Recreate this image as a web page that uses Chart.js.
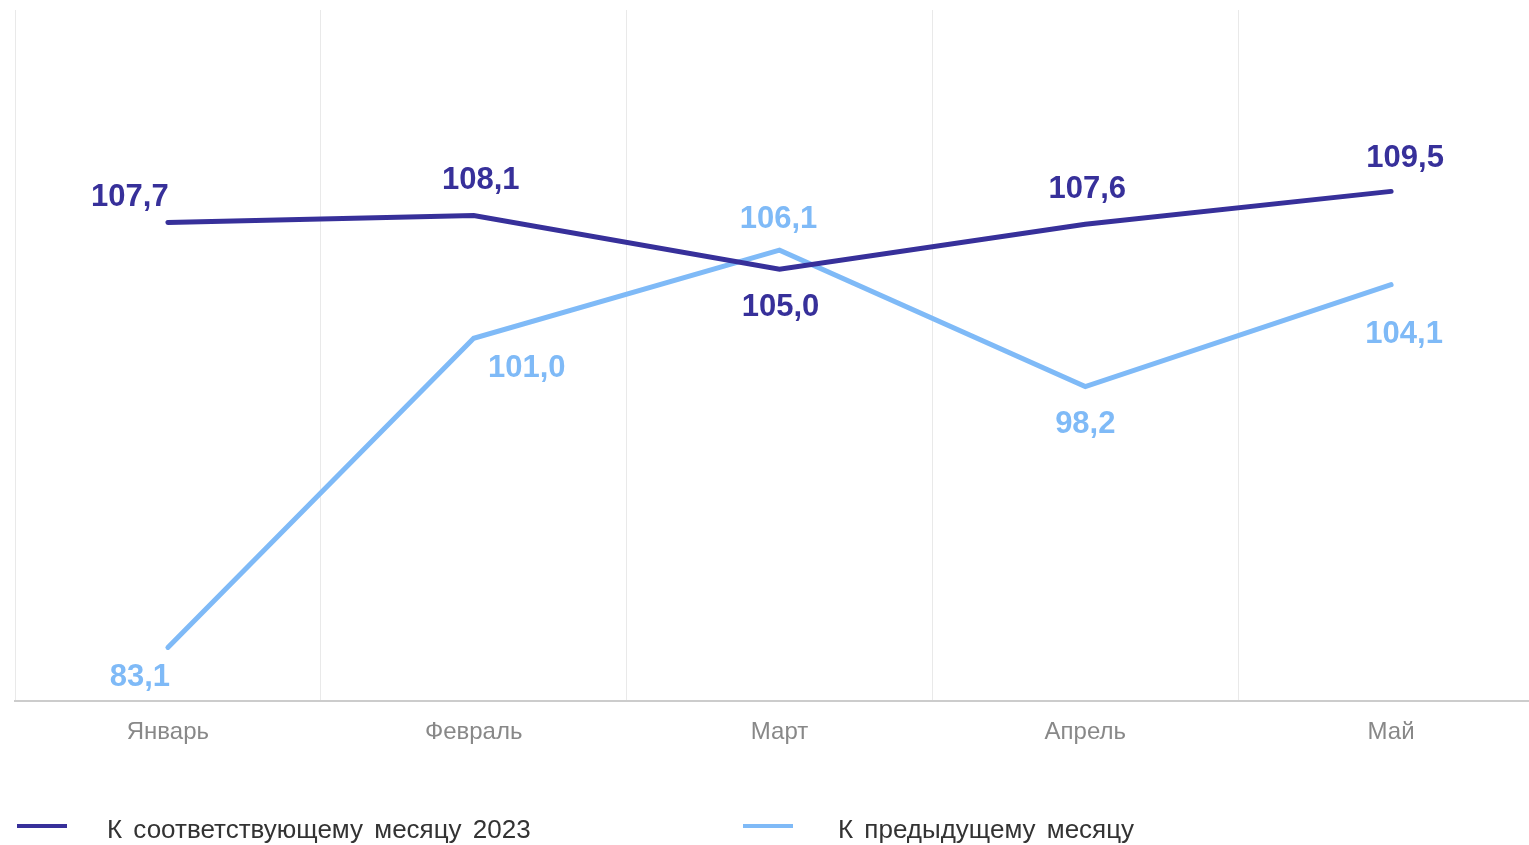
<!DOCTYPE html>
<html>
<head>
<meta charset="utf-8">
<script src="https://cdn.jsdelivr.net/npm/chart.js@4/dist/chart.umd.min.js"></script>
<style>
    body { margin: 0; overflow: hidden; background: #fff; font-family: "Liberation Sans", Arial, sans-serif; }
    #wrap { position: absolute; left: 0; top: 0; width: 1560px; height: 770px; }
    #legend { position: absolute; left: 0; top: 0; width: 1529px; height: 845px; }
    .mark { position: absolute; top: 824px; width: 50px; height: 4px; }
    .name { position: absolute; top: 812px; font-size: 26px; line-height: 34px; color: #333; word-spacing: 4px; white-space: nowrap; }
</style>
</head>
<body>
<div id="wrap"><canvas id="myChart"></canvas></div>
<div id="legend"></div>
<script>
const months = ['Январь', 'Февраль', 'Март', 'Апрель', 'Май'];
const sameMonth2023 = [107.7, 108.1, 105.0, 107.6, 109.5];
const prevMonth = [83.1, 101.0, 106.1, 98.2, 104.1];
const seriesNames = ['К соответствующему месяцу 2023', 'К предыдущему месяцу'];
const seriesColors = ['#37309a', '#7fbaf7'];

// where each value label sits relative to its point (centre of the digits)
const labelShift = [
    [[-38, -27], [7, -38], [1, 36], [2, -37], [14, -35]],
    [[-28, 28], [53, 28], [-1, -33], [0, 35], [13, 47]]
];

const valueLabels = {
    id: 'valueLabels',
    afterDatasetsDraw(chart) {
        const c = chart.ctx;
        c.save();
        c.font = 'bold 31px "Liberation Sans", Arial, sans-serif';
        c.textAlign = 'center';
        c.textBaseline = 'alphabetic';
        chart.data.datasets.forEach((ds, i) => {
            c.fillStyle = ds.borderColor;
            chart.getDatasetMeta(i).data.forEach((pt, j) => {
                const s = labelShift[i][j];
                const txt = ds.data[j].toFixed(1).replace('.', ',');
                c.fillText(txt, pt.x + s[0], pt.y + s[1] + 11);
            });
        });
        c.restore();
    }
};

const ctx = document.getElementById('myChart').getContext('2d');
const myChart = new Chart(ctx, {
    type: 'line',
    data: {
        labels: months,
        datasets: [{
            label: seriesNames[0],
            data: sameMonth2023,
            borderColor: seriesColors[0],
            borderWidth: 5,
            pointRadius: 0,
            borderCapStyle: 'round',
            tension: 0
        }, {
            label: seriesNames[1],
            data: prevMonth,
            borderColor: seriesColors[1],
            borderWidth: 5,
            pointRadius: 0,
            borderCapStyle: 'round',
            tension: 0
        }]
    },
    options: {
        responsive: true,
        maintainAspectRatio: false,
        animation: false,
        layout: {
            padding: { left: 15, right: 16, top: 10, bottom: 0 }
        },
        plugins: {
            legend: { display: false },
            tooltip: { enabled: false }
        },
        scales: {
            y: {
                display: false,
                min: 80,
                max: 120
            },
            x: {
                offset: true,
                grid: {
                    offset: true,
                    color: '#e9e9e9',
                    lineWidth: 1,
                    drawTicks: false
                },
                border: {
                    color: '#cccccc',
                    width: 2
                },
                ticks: {
                    color: '#888888',
                    padding: 17,
                    font: { family: '"Liberation Sans", Arial, sans-serif', size: 24 }
                },
                afterFit(scale) {
                    scale.height = 69;
                }
            }
        }
    },
    plugins: [valueLabels]
});

// legend below the chart
const legend = document.getElementById('legend');
const markLeft = [17, 743];
const nameLeft = [107, 838];
seriesNames.forEach((name, i) => {
    const mark = document.createElement('div');
    mark.className = 'mark';
    mark.style.left = markLeft[i] + 'px';
    mark.style.background = seriesColors[i];
    legend.appendChild(mark);
    const txt = document.createElement('div');
    txt.className = 'name';
    txt.style.left = nameLeft[i] + 'px';
    txt.textContent = name;
    legend.appendChild(txt);
});
</script>
</body>
</html>
